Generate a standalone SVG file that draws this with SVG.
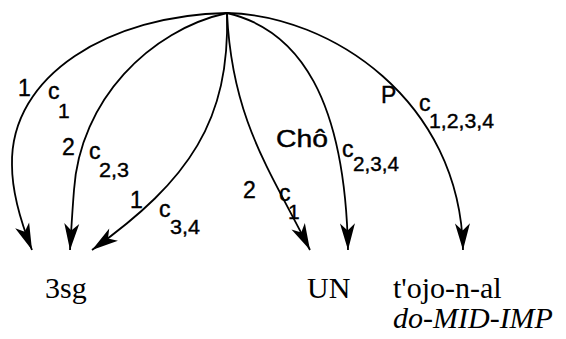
<svg xmlns="http://www.w3.org/2000/svg" width="566" height="339" viewBox="0 0 566 339">
<defs>
<marker id="ah" markerUnits="userSpaceOnUse" markerWidth="30" markerHeight="20" viewBox="-24 -8 26 16" refX="0" refY="0" orient="auto">
<path d="M0,0 L-23,-6.5 L-17,0 L-23,6.5 Z" fill="#000"/>
</marker>
</defs>
<style>
.e{fill:none;stroke:#000;stroke-width:1.8;marker-end:url(#ah)}
.l{font-family:"Liberation Sans",Arial,sans-serif;font-size:23px;fill:#000;stroke:#000;stroke-width:0.4}
.s{font-family:"Liberation Sans",Arial,sans-serif;font-size:21px;fill:#000;stroke:#000;stroke-width:0.4}
.n{font-family:"Liberation Serif","Times New Roman",serif;font-size:30px;fill:#000}
.i{font-style:italic}
</style>
<rect width="566" height="339" fill="#fff"/>
<g id="connectors">
<path class="e" d="M227,13 C110,15 10,75 12,165 C12,195 22,225 32,250"/>
<path class="e" d="M227,13 C150,30 80,100 74,190 C72,215 71,235 70,250"/>
<path class="e" d="M227,13 C230,120 190,180 92,250"/>
<path class="e" d="M227,13 C232,120 270,170 310,250"/>
<path class="e" d="M227,13 C300,30 345,100 348,250"/>
<path class="e" d="M227,13 C330,15 460,100 463,250"/>
</g>
<g id="edge-labels">
<text class="l" x="18" y="96">1</text>
<text class="l" x="48" y="99">c</text>
<text class="s" x="58" y="118">1</text>
<text class="l" x="62" y="155">2</text>
<text class="l" x="89" y="159">c</text>
<text class="s" x="99" y="177" textLength="30" lengthAdjust="spacingAndGlyphs">2,3</text>
<text class="l" x="130" y="208">1</text>
<text class="l" x="159" y="217">c</text>
<text class="s" x="170" y="234" textLength="30" lengthAdjust="spacingAndGlyphs">3,4</text>
<text class="l" x="243" y="198">2</text>
<text class="l" x="279" y="201">c</text>
<text class="s" x="288" y="219">1</text>
<text class="l" x="276" y="147" textLength="52" lengthAdjust="spacingAndGlyphs">Chô</text>
<text class="l" x="342" y="157">c</text>
<text class="s" x="353" y="171" textLength="46" lengthAdjust="spacingAndGlyphs">2,3,4</text>
<text class="l" x="381" y="103">P</text>
<text class="l" x="419" y="111">c</text>
<text class="s" x="429" y="128" textLength="65" lengthAdjust="spacingAndGlyphs">1,2,3,4</text>
</g>
<g id="node-3sg"><text class="n" x="45" y="298">3sg</text></g>
<g id="node-UN"><text class="n" x="307" y="298">UN</text></g>
<g id="node-tojo">
<text class="n" x="393" y="298">t'ojo-n-al</text>
<text class="n i" x="393" y="328">do-MID-IMP</text>
</g>
</svg>
